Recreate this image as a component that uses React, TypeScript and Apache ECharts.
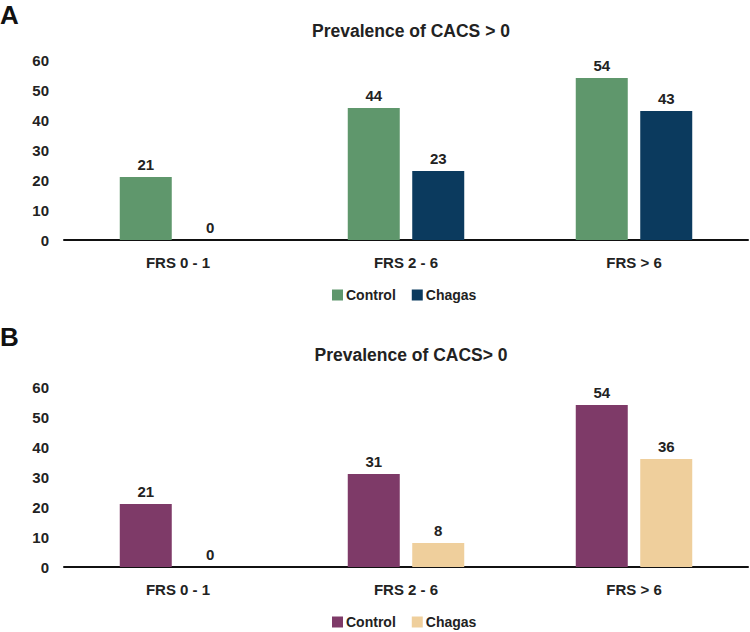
import React, { useEffect, useRef } from "react";
import * as echarts from "echarts";

const categories = ["FRS 0 - 1", "FRS 2 - 6", "FRS > 6"];
const controlA = [21, 44, 54];
const chagasA = [0, 23, 43];
const controlB = [21, 31, 54];
const chagasB = [0, 8, 36];
const yTicks = { min: 0, max: 60, interval: 10 };
const titleA = "Prevalence of CACS > 0";
const titleB = "Prevalence of CACS> 0";
const panelLetters = ["A", "B"];

const FONT = "'Liberation Sans Narrow', 'Arial Narrow', 'Liberation Sans', Arial, sans-serif";
const colors = {
  controlA: "#5f976c",
  chagasA: "#0b3a5e",
  controlB: "#7e3a68",
  chagasB: "#efcf9c",
};

export default function App() {
  const ref = useRef<HTMLDivElement>(null);
  useEffect(() => {
    if (!ref.current) return;
    const chart = echarts.init(ref.current, undefined, { renderer: "svg" });
    const textBase = { fontFamily: FONT, fontWeight: "bold" as const, color: "#222", fontSize: 15 };
    const xAxis = (gridIndex: number) => ({
      type: "category" as const,
      gridIndex,
      data: categories,
      axisTick: { show: false },
      axisLine: { lineStyle: { color: "#111", width: 2 } },
      axisLabel: { ...textBase, margin: 15 },
    });
    const yAxis = (gridIndex: number) => ({
      type: "value" as const,
      gridIndex,
      ...yTicks,
      splitLine: { show: false },
      axisLine: { show: false },
      axisTick: { show: false },
      axisLabel: { ...textBase, margin: 15 },
    });
    const bar = (name: string, data: number[], color: string, idx: number) => ({
      type: "bar" as const,
      name,
      data,
      xAxisIndex: idx,
      yAxisIndex: idx,
      barWidth: 52,
      barGap: "24%",
      itemStyle: { color },
      label: { show: true, position: "top" as const, distance: 5, ...textBase },
    });
    const legendBase = {
      formatter: (n: string) => n.replace(/ [AB]$/, ""),
      left: 332,
      padding: 0,
      icon: "rect",
      itemWidth: 11,
      itemHeight: 11,
      itemGap: 16,
      textStyle: { ...textBase, fontSize: 14, padding: [0, 0, 0, -2] },
    };
    chart.setOption({
      animation: false,
      backgroundColor: "#fff",
      title: [
        { text: titleA, left: 406, top: 17, padding: 5, textAlign: "center", textStyle: { ...textBase, fontSize: 17.5 } },
        { text: titleB, left: 406, top: 341, padding: 5, textAlign: "center", textStyle: { ...textBase, fontSize: 17.5 } },
      ],
      graphic: [
        { type: "text", left: 0, top: 2, style: { text: panelLetters[0], font: "bold 26px 'Liberation Sans', Arial, sans-serif", fill: "#111" } },
        { type: "text", left: 0, top: 324, style: { text: panelLetters[1], font: "bold 26px 'Liberation Sans', Arial, sans-serif", fill: "#111" } },
      ],
      legend: [
        {
          ...legendBase,
          data: [
            { name: "Control A", itemStyle: { color: colors.controlA } },
            { name: "Chagas A", itemStyle: { color: colors.chagasA } },
          ],
          top: 288,
        },
        {
          ...legendBase,
          data: [
            { name: "Control B", itemStyle: { color: colors.controlB } },
            { name: "Chagas B", itemStyle: { color: colors.chagasB } },
          ],
          top: 615,
        },
      ],
      grid: [
        { left: 64, right: 2, top: 60, height: 180 },
        { left: 64, right: 2, top: 387, height: 180 },
      ],
      xAxis: [xAxis(0), xAxis(1)],
      yAxis: [yAxis(0), yAxis(1)],
      series: [
        bar("Control A", controlA, colors.controlA, 0),
        bar("Chagas A", chagasA, colors.chagasA, 0),
        bar("Control B", controlB, colors.controlB, 1),
        bar("Chagas B", chagasB, colors.chagasB, 1),
      ],
    });
    return () => chart.dispose();
  }, []);
  return (
    <div
      ref={ref}
      style={{ position: "absolute", left: 0, top: 0, width: 750, height: 632 }}
    />
  );
}
